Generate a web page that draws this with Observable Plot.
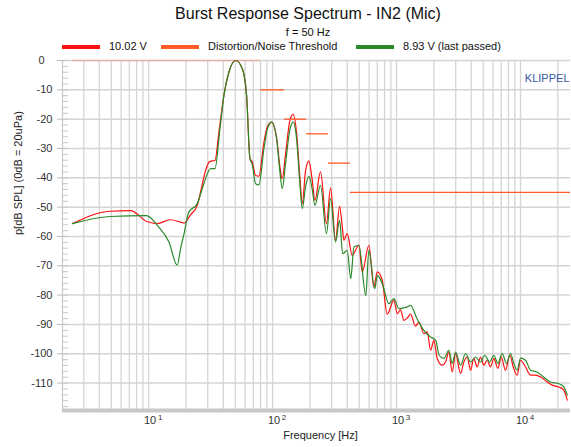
<!DOCTYPE html>
<html>
<head>
<meta charset="utf-8">
<script src="https://cdn.jsdelivr.net/npm/d3@7"></script>
<script src="https://cdn.jsdelivr.net/npm/@observablehq/plot@0.6"></script>
<style>
  body { margin: 0; background: #fff; font-family: "Liberation Sans", Arial, sans-serif; }
  #wrap { position: relative; width: 571px; height: 447px; overflow: hidden; background: #fff; }
  #chart { position: absolute; left: 0; top: 0; }
  .abs { position: absolute; white-space: nowrap; color: #111; }
  .sw { position: absolute; height: 4px; }
</style>
</head>
<body>
<div id="wrap">
  <div id="chart"></div>
  <div class="abs" style="left:0;width:616px;top:6px;text-align:center;font-size:16px;line-height:16px;">Burst Response Spectrum - IN2 (Mic)</div>
  <div class="abs" style="left:0;width:616px;top:27px;text-align:center;font-size:11px;line-height:11px;">f = 50 Hz</div>
  <div id="legend"></div>
</div>
<script>
// ---- data (frequency in Hz, level in dB) ----
const series10V = [
  [2.43,-55.6],[4.87,-51.4],[7.16,-51.2],[9.76,-55.0],[11.75,-55.6],[14.9,-54.3],[18.1,-55.1],[19.3,-55.4],
  [21.8,-52.6],[24.7,-49.4],[26.5,-44.0],[28.8,-37.5],[31.2,-34.4],[34.3,-34.1],[36.9,-24.4],[40.5,-11.9],
  [44.4,-4.0],[50.4,0],[57.0,-2.8],[61.7,-11.9],[65.7,-33.5],[68.6,-34.6],[72.9,-39.2],[77.6,-39.4],
  [85.2,-27.8],[90.6,-22.7],[98.2,-21.0],[107.6,-26.1],[114.6,-36.3],[119.7,-40.3],[127.3,-31.8],[138,-20.4],
  [146.8,-18.4],[156.4,-25.0],[166,-39.7],[173.7,-48.8],[184.5,-37.5],[196.5,-34.3],[208.9,-40.9],[219.5,-47.7],
  [243.6,-38.0],[272,-55.6],[293.5,-43.4],[322,-61.3],[347,-49.7],[365,-56.8],[376,-61.3],[400,-59.0],
  [439,-66.4],[497,-63.0],[529,-72.1],[598,-63.0],[656,-77.2],[699,-72.1],[767,-75.0],[841,-86.5],
  [951,-81.8],[1014,-86.3],[1077,-85.0],[1146,-88.6],[1238,-87.5],[1297,-86.5],[1422,-90.6],[1514,-89.2],
  [1661,-93.1],[1770,-92.5],[1881,-98.8],[2000,-95.4],[2128,-101.6],[2336,-103.9],[2485,-102.8],[2642,-99.4],
  [2812,-106.2],[2992,-99.9],[3283,-106.7],[3491,-102.8],[3716,-101.1],[3954,-105.6],[4202,-101.6],[4474,-104.5],
  [4757,-101.1],[5059,-103.9],[5385,-102.2],[5727,-104.5],[6092,-101.6],[6563,-105.0],[6986,-101.1],[7568,-105.6],
  [8199,-100.5],[8730,-104.5],[9397,-107.3],[10000,-102.2],[10970,-104.5],[12040,-107.3],[13210,-107.3],[14500,-107.9],
  [16420,-109.6],[18020,-110.7],[20370,-111.3],[22350,-112.4],[23820,-115.8]
];
const series893V = [
  [2.43,-55.6],[4.87,-53.2],[9.64,-52.9],[11.75,-56.2],[14.6,-61.9],[17.0,-69.8],[18.1,-64.2],[19.3,-59.1],
  [21.1,-51.7],[24.7,-48.8],[27.9,-42.0],[31.6,-36.9],[34.3,-36.9],[37.6,-23.3],[40.5,-11.9],[44.4,-4.0],
  [50.4,0],[57.0,-2.8],[61.7,-11.9],[65.7,-33.5],[68.6,-35.5],[72.9,-42.0],[77.6,-42.4],[85.2,-30.0],
  [90.6,-23.5],[98.2,-21.0],[107.6,-26.5],[114.6,-38.0],[119.7,-43.7],[127.3,-35.0],[138,-23.5],[146.8,-21.0],
  [156.4,-27.0],[166,-42.0],[173.7,-50.5],[184.5,-43.0],[196.5,-39.5],[208.9,-44.0],[219.5,-49.4],[243.6,-42.6],
  [272,-59.0],[293.5,-47.1],[322,-61.9],[347,-54.5],[368,-65.9],[400,-64.7],[427,-74.4],[453,-63.6],
  [497,-63.0],[565,-80.1],[598,-64.7],[667,-77.8],[699,-73.3],[767,-76.1],[868,-82.9],[951,-81.2],
  [1045,-84.6],[1218,-84.0],[1297,-83.5],[1462,-88.0],[1661,-92.0],[1881,-94.3],[2069,-95.4],[2204,-100.5],
  [2413,-101.6],[2642,-98.8],[2812,-103.3],[2992,-99.4],[3283,-103.9],[3602,-99.9],[3954,-102.8],[4339,-101.1],
  [4757,-102.8],[5138,-100.5],[5625,-102.8],[6092,-100.5],[6563,-103.3],[7120,-99.9],[7700,-103.3],[8300,-99.9],
  [8840,-103.3],[9397,-105.6],[10000,-101.5],[10970,-102.2],[12040,-105.6],[13580,-106.2],[15360,-107.9],[17390,-109.6],
  [20370,-110.2],[22350,-111.3],[23820,-114.1]
];
const thresholdFrom  = [2.43, 80, 125, 188, 282, 424];
const thresholdTo    = [80, 125, 188, 282, 424, 25300];
const thresholdLevel = [0, -10, -20, -25, -35, -45];

const legendLabels = ["10.02 V", "Distortion/Noise Threshold", "8.93 V (last passed)"];
const yTicks = [0, -10, -20, -30, -40, -50, -60, -70, -80, -90, -100, -110];
const yMinorTicks = [0,-2,-4,-6,-8,-10,-12,-14,-16,-18,-20,-22,-24,-26,-28,-30,-32,-34,-36,-38,-40,-42,-44,-46,-48,-50,-52,-54,-56,-58,-60,-62,-64,-66,-68,-70,-72,-74,-76,-78,-80,-82,-84,-86,-88,-90,-92,-94,-96,-98,-100,-102,-104,-106,-108,-110,-112,-114,-116,-118];
const decadeExponents = [1, 2, 3, 4];
const gridMantissas = [1, 2, 3, 4, 5, 6, 7, 8, 9];
const freqDomain = [2.02, 25300];
const dbDomain = [-119, 0];

// ---- derived tables ----
const red = series10V.map(([f, db]) => ({f, db}));
const green = series893V.map(([f, db]) => ({f, db}));
const thresholds = thresholdLevel.map((level, i) => ({f1: thresholdFrom[i], f2: thresholdTo[i], level}));
const gridFreqs = [];
for (const e of [0, 1, 2, 3, 4]) for (const m of gridMantissas) {
  const f = m * 10 ** e;
  if (f > freqDomain[0] && f <= 20000) gridFreqs.push(f);
}
const decadeFreqs = decadeExponents.map(e => 10 ** e);

const colRed = "#ff1010", colGreen = "#2a8a2a", colThr = "#ff5a28", colGrid = "#d4d4d4";

const chart = Plot.plot({
  width: 571,
  height: 447,
  marginLeft: 62,
  marginRight: 1,
  marginTop: 60,
  marginBottom: 38,
  style: { fontFamily: '"Liberation Sans", Arial, sans-serif', fontSize: "11px", background: "transparent", overflow: "visible" },
  x: { type: "log", domain: freqDomain, axis: null },
  y: { domain: dbDomain, axis: null },
  marks: [
    Plot.ruleY(yTicks, { stroke: colGrid, strokeWidth: 1.5 }),
    Plot.ruleX(gridFreqs, { stroke: colGrid, strokeWidth: 1.3 }),
    Plot.ruleX([freqDomain[0]], { stroke: "#c8c8c8", strokeWidth: 1.2 }),
    Plot.ruleY(yMinorTicks, { x1: freqDomain[0], x2: freqDomain[0] * 1.12, stroke: "#c8c8c8" }),
    Plot.ruleY(yTicks, { x1: freqDomain[0] / 1.1, x2: freqDomain[0], stroke: "#b8b8b8" }),
    Plot.ruleY([dbDomain[0]], { stroke: "#c8c8c8", strokeWidth: 4, dy: 1 }),
    Plot.ruleX(decadeFreqs, { y1: dbDomain[0], y2: dbDomain[0] - 1.3, stroke: "#c8c8c8" }),
    Plot.line(red, { x: "f", y: "db", stroke: colRed, strokeWidth: 1.2, curve: "monotone-x" }),
    Plot.line(green, { x: "f", y: "db", stroke: colGreen, strokeWidth: 1.2, curve: "monotone-x" }),
    Plot.ruleY(thresholds, { y: "level", x1: "f1", x2: "f2", stroke: colThr, strokeWidth: 1.3,
      strokeOpacity: d => d.level === 0 ? 0.28 : 1 }),
    // y tick labels
    Plot.text(yTicks.filter(d => d !== 0), { y: d => d, frameAnchor: "left", textAnchor: "end", dx: -10, text: d => String(d), fill: "#333", fontSize: 11 }),
    Plot.text(yTicks.filter(d => d === 0), { y: d => d, frameAnchor: "left", textAnchor: "end", dx: -18, text: d => String(d), fill: "#333", fontSize: 11 }),
    // x tick labels 10^n
    Plot.text(decadeFreqs, { x: d => d, frameAnchor: "bottom", dy: 14, dx: 1.5, text: () => "10", fill: "#333", fontSize: 11 }),
    Plot.text(decadeExponents, { x: d => 10 ** d, frameAnchor: "bottom", dy: 10, dx: 11.5, text: d => String(d), fill: "#333", fontSize: 8 }),
    // axis titles
    Plot.text(["Frequency [Hz]"], { frameAnchor: "bottom", dy: 29, dx: 4, fill: "#222", fontSize: 11 }),
    Plot.text(["p[dB SPL] (0dB = 20uPa)"], { frameAnchor: "left", rotate: -90, dx: -44, fill: "#222", fontSize: 11 }),
    Plot.text(["KLIPPEL"], { frameAnchor: "top-right", textAnchor: "end", dx: -1, dy: 14, fill: "#3a56a5", fontSize: 11 })
  ]
});
document.getElementById("chart").appendChild(chart);

// ---- legend ----
const legendColors = [colRed, colThr, colGreen];
const swatchX = [62, 161, 356];
const legend = document.getElementById("legend");
legendLabels.forEach((lab, i) => {
  const sw = document.createElement("div");
  sw.className = "sw";
  sw.style.left = swatchX[i] + "px";
  sw.style.width = "38px";
  sw.style.top = "45px";
  sw.style.background = legendColors[i];
  legend.appendChild(sw);
  const t = document.createElement("div");
  t.className = "abs";
  t.style.left = (swatchX[i] + 47) + "px";
  t.style.top = "41px";
  t.style.fontSize = "11px";
  t.style.lineHeight = "11px";
  t.textContent = lab;
  legend.appendChild(t);
});
</script>
</body>
</html>
